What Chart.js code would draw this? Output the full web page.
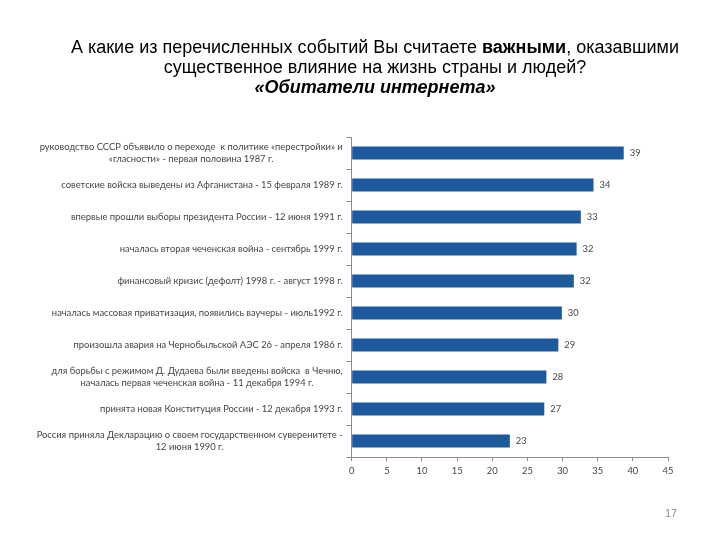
<!DOCTYPE html>
<html>
<head>
<meta charset="utf-8">
<script src="https://cdn.jsdelivr.net/npm/chart.js@4/dist/chart.umd.min.js"></script>
<style>
  html, body { margin: 0; padding: 0; background: #ffffff; }
  #wrap { position: relative; width: 720px; height: 540px; overflow: hidden; }
  #c { position: absolute; left: 0; top: 0; }
  #title { position: absolute; left: 30px; top: 37px; width: 690px; text-align: center;
           font-family: "Liberation Sans", Arial, sans-serif; font-size: 18px; line-height: 20px; color: #000; }
  #page { position: absolute; left: 651px; top: 507px; width: 40px; text-align: center;
          font-family: "Liberation Sans", Arial, sans-serif; font-size: 11px; color: #8c8c8c; }
</style>
</head>
<body>
<div id="wrap">
  <canvas id="c" width="720" height="540"></canvas>
  <div id="title">А какие из перечисленных событий Вы считаете <b>важными</b>, оказавшими<br>существенное влияние на жизнь страны и людей?<br><b><i>«Обитатели интернета»</i></b></div>
  <div id="page">17</div>
</div>
<script>
const categories = [
  ["руководство СССР объявило о переходе  к политике «перестройки» и", "«гласности» - первая половина 1987 г."],
  ["советские войска выведены из Афганистана - 15 февраля 1989 г."],
  ["впервые прошли выборы президента России - 12 июня 1991 г."],
  ["началась вторая чеченская война - сентябрь 1999 г."],
  ["финансовый кризис (дефолт) 1998 г. - август 1998 г."],
  ["началась массовая приватизация, появились ваучеры - июль1992 г."],
  ["произошла авария на Чернобыльской АЭС 26 - апреля 1986 г."],
  ["для борьбы с режимом Д. Дудаева были введены войска  в Чечню,", "началась первая чеченская война - 11 декабря 1994 г."],
  ["принята новая Конституция России - 12 декабря 1993 г."],
  ["Россия приняла Декларацию о своем государственном суверенитете -", "12 июня 1990 г."]
];
const values = [38.7, 34.4, 32.6, 32.0, 31.6, 29.9, 29.4, 27.7, 27.4, 22.5];
const valueLabels = ["39", "34", "33", "32", "32", "30", "29", "28", "27", "23"];
const xMin = 0, xMax = 45, xStep = 5;

const labelFont = '9.4px Lato, "Open Sans", sans-serif';
const textColor = '#454545';
const axisColor = '#8c8c8c';

const drawLabels = {
  id: 'drawLabels',
  afterDraw(chart) {
    const ctx = chart.ctx;
    const ys = chart.scales.y, xs = chart.scales.x;
    ctx.save();
    ctx.font = labelFont;
    ctx.fillStyle = textColor;
    ctx.textBaseline = 'middle';
    const lh = 12;
    categories.forEach((lines, i) => {
      const yc = ys.getPixelForValue(i);
      const widest = Math.max(...lines.map(l => ctx.measureText(l).width));
      const cx = ys.right - 9 - widest / 2;
      ctx.textAlign = 'center';
      lines.forEach((l, k) => {
        ctx.fillText(l, cx, yc + (k - (lines.length - 1) / 2) * lh);
      });
    });
    ctx.textAlign = 'left';
    values.forEach((v, i) => {
      ctx.fillText(valueLabels[i], xs.getPixelForValue(v) + 6, ys.getPixelForValue(i));
    });
    ctx.restore();
  }
};

new Chart(document.getElementById('c'), {
  type: 'bar',
  data: {
    labels: categories,
    datasets: [{
      data: values,
      backgroundColor: '#1d5a9c',
      borderWidth: 0,
      barPercentage: 0.4,
      categoryPercentage: 1.0
    }]
  },
  options: {
    indexAxis: 'y',
    responsive: false,
    animation: false,
    layout: { padding: { left: 36, right: 52, top: 137, bottom: 58 } },
    plugins: { legend: { display: false }, tooltip: { enabled: false }, title: { display: false } },
    scales: {
      x: {
        min: xMin, max: xMax,
        ticks: { stepSize: xStep, color: textColor, font: { family: 'Lato, "Open Sans", sans-serif', size: 9.4 }, padding: 4, maxRotation: 0 },
        grid: { drawOnChartArea: false, tickLength: 4, color: axisColor },
        border: { color: axisColor },
        afterFit(scale) { scale.height = 25; }
      },
      y: {
        ticks: { display: false },
        grid: { drawOnChartArea: false, tickLength: 5, color: axisColor, offset: true },
        border: { color: axisColor },
        afterFit(scale) { scale.width = 315.7; }
      }
    }
  },
  plugins: [drawLabels]
});
</script>
</body>
</html>
